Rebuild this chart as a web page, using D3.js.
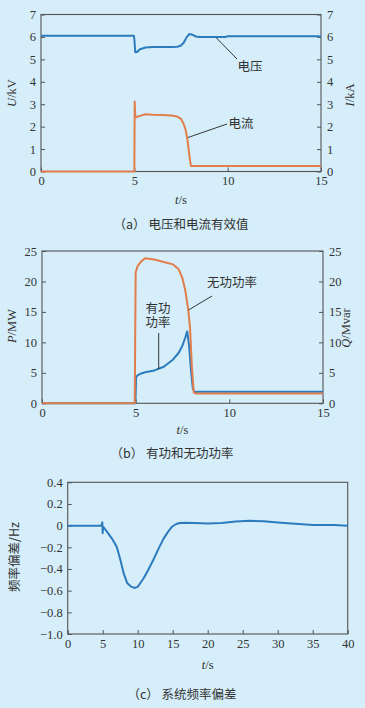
<!DOCTYPE html>
<html>
<head>
<meta charset="utf-8">
<script src="https://cdn.jsdelivr.net/npm/d3@7"></script>
<style>
  html, body { margin: 0; padding: 0; background: #d5eefa; }
  svg { display: block; }
  .tick text { font-family: 'Liberation Serif', serif; font-size: 12.5px; fill: #333; }
  .tick line { stroke: #555; }
  .lbl { font-family: 'Liberation Serif', serif; font-size: 12.5px; fill: #333; }
  .cjk { font-family: 'Noto Sans CJK SC', sans-serif; font-size: 12.5px; fill: #333; }
</style>
</head>
<body>
<svg id="chart" width="365" height="708"></svg>
<script>
// panel (a) voltage / current rms
var voltT = [0, 4.98, 5.0, 5.05, 5.15, 5.3, 5.6, 6.0, 7.0, 7.3, 7.5, 7.65, 7.8, 7.95, 8.1, 8.3, 8.5, 9.9, 10.0, 14.8, 15];
var voltU = [6.05, 6.05, 5.9, 5.32, 5.33, 5.45, 5.53, 5.55, 5.55, 5.56, 5.62, 5.75, 5.98, 6.13, 6.1, 6.02, 6.0, 6.0, 6.03, 6.03, 6.02];
var currT = [0, 5.0, 5.02, 5.05, 5.08, 5.3, 5.6, 6.0, 6.5, 7.0, 7.3, 7.5, 7.65, 7.75, 7.85, 7.95, 8.03, 8.2, 15];
var currI = [0, 0, 3.12, 2.5, 2.42, 2.48, 2.55, 2.53, 2.52, 2.5, 2.45, 2.35, 2.1, 1.85, 1.4, 0.7, 0.25, 0.25, 0.25];

// panel (b) active / reactive power
var pT = [0, 4.98, 5.0, 5.02, 5.1, 5.3, 5.5, 6.0, 6.5, 7.0, 7.3, 7.5, 7.65, 7.75, 7.85, 7.95, 8.05, 8.15, 8.3, 15];
var pP = [0, 0, 1.5, 4.3, 4.6, 4.9, 5.1, 5.4, 6.0, 7.2, 8.3, 9.5, 10.8, 11.8, 9.5, 5.5, 2.5, 1.8, 1.9, 1.9];
var qT = [0, 4.95, 5.0, 5.1, 5.3, 5.5, 6.0, 6.5, 7.0, 7.3, 7.5, 7.65, 7.8, 7.9, 8.0, 8.1, 8.2, 15];
var qQ = [0, 0, 21.5, 22.5, 23.3, 23.8, 23.6, 23.2, 22.8, 22.0, 20.5, 18.5, 15.5, 12.5, 6, 1.8, 1.6, 1.6];

// panel (c) system frequency deviation
var freqT = [0, 4.8, 4.95, 5.0, 5.05, 5.3, 5.6, 6.3, 7.0, 7.5, 8.0, 8.5, 9.0, 9.5, 10.0, 10.8, 11.5, 12.2, 13.0, 13.7, 14.3, 14.9, 15.5, 16.0, 17, 20, 22, 24, 26, 28, 30, 32, 35, 38, 40];
var freqF = [0, 0, 0.03, -0.07, -0.01, -0.03, -0.056, -0.117, -0.195, -0.31, -0.44, -0.53, -0.56, -0.575, -0.565, -0.49, -0.41, -0.32, -0.21, -0.12, -0.06, -0.01, 0.015, 0.025, 0.027, 0.02, 0.025, 0.038, 0.045, 0.04, 0.03, 0.02, 0.005, 0.005, 0];

var ticksA = [0, 1, 2, 3, 4, 5, 6, 7];
var ticksB = [0, 5, 10, 15, 20, 25];
var ticksC = [0.4, 0.2, 0, -0.2, -0.4, -0.6, -0.8, -1.0];
var ticksT15 = [0, 5, 10, 15];
var ticksT40 = [0, 5, 10, 15, 20, 25, 30, 35, 40];

var BLUE = '#2b7bbd', ORANGE = '#e27d4c', AXIS = '#555';
var svg = d3.select('#chart');

function zip(a, b) { return a.map(function (v, i) { return [v, b[i]]; }); }

// draw a framed panel with inward ticks; returns scales
function panel(o) {
  var x = d3.scaleLinear().domain(o.xDom).range([o.l, o.r]);
  var y = d3.scaleLinear().domain(o.yDom).range([o.b, o.t]);
  var g = svg.append('g');

  g.append('g').attr('transform', 'translate(0,' + o.b + ')')
    .call(d3.axisBottom(x).tickValues(o.xTicks).tickSizeInner(-4).tickSizeOuter(0).tickPadding(5).tickFormat(d3.format('d')))
    .call(function (s) { s.select('.domain').remove(); });
  g.append('g').attr('transform', 'translate(' + o.l + ',0)')
    .call(d3.axisLeft(y).tickValues(o.yTicks).tickSizeInner(-4).tickSizeOuter(0).tickPadding(5).tickFormat(o.fmt || d3.format('d')))
    .call(function (s) { s.select('.domain').remove(); });
  if (o.right) {
    g.append('g').attr('transform', 'translate(' + o.r + ',0)')
      .call(d3.axisRight(y).tickValues(o.yTicks).tickSizeInner(-4).tickSizeOuter(0).tickPadding(6).tickFormat(d3.format('d')))
      .call(function (s) { s.select('.domain').remove(); });
  }
  g.selectAll('.tick line').attr('stroke', AXIS);
  g.selectAll('.tick text').attr('fill', '#333');

  g.append('rect').attr('x', o.l).attr('y', o.t).attr('width', o.r - o.l).attr('height', o.b - o.t)
    .attr('fill', 'none').attr('stroke', AXIS).attr('stroke-width', 1.1);

  // x title
  var xt = g.append('text').attr('class', 'lbl').attr('x', (o.l + o.r) / 2).attr('y', o.xTitleY).attr('text-anchor', 'middle');
  xt.append('tspan').attr('font-style', 'italic').text('t');
  xt.append('tspan').text('/s');

  return { x: x, y: y, g: g };
}

function sideTitle(x, y, ital, rest, cjk) {
  var t = svg.append('text').attr('transform', 'translate(' + x + ',' + y + ') rotate(-90)')
    .attr('text-anchor', 'middle').attr('class', cjk ? 'cjk' : 'lbl');
  if (ital) t.append('tspan').attr('font-style', 'italic').text(ital);
  t.append('tspan').text(rest);
}

function series(p, xs, ys, color) {
  var line = d3.line().x(function (d) { return p.x(d[0]); }).y(function (d) { return p.y(d[1]); });
  p.g.append('path').datum(zip(xs, ys)).attr('d', line)
    .attr('fill', 'none').attr('stroke', color).attr('stroke-width', 2).attr('stroke-linejoin', 'round');
}

function leader(x1, y1, x2, y2) {
  svg.append('line').attr('x1', x1).attr('y1', y1).attr('x2', x2).attr('y2', y2)
    .attr('stroke', '#222').attr('stroke-width', 0.9);
}

function caption(x, y, tag, txt) {
  svg.append('text').attr('class', 'cjk').attr('x', x).attr('y', y).attr('text-anchor', 'middle')
    .attr('font-size', 13).text('（' + tag + '）  ' + txt);
}

// (a)
var pa = panel({ l: 41, r: 321, t: 14.5, b: 171.5, xDom: [0, 15], yDom: [0, 7], xTicks: ticksT15, yTicks: ticksA, right: true, xTitleY: 204 });
series(pa, currT, currI, ORANGE);
series(pa, voltT, voltU, BLUE);
sideTitle(16, 93, 'U', '/kV');
sideTitle(354, 95, 'I', '/kA');
leader(216, 37.5, 237, 59);
svg.append('text').attr('class', 'cjk').attr('x', 250).attr('y', 71).attr('text-anchor', 'middle').text('电压');
leader(188, 137.5, 227, 124);
svg.append('text').attr('class', 'cjk').attr('x', 241).attr('y', 128).attr('text-anchor', 'middle').text('电流');
caption(181, 229, 'a', '电压和电流有效值');

// (b)
var pb = panel({ l: 42, r: 323, t: 251, b: 403.3, xDom: [0, 15], yDom: [0, 25], xTicks: ticksT15, yTicks: ticksB, right: true, xTitleY: 434 });
series(pb, pT, pP, BLUE);
series(pb, qT, qQ, ORANGE);
sideTitle(16, 326, 'P', '/MW');
sideTitle(350, 328, 'Q', '/Mvar');
leader(188.5, 310, 212, 296);
svg.append('text').attr('class', 'cjk').attr('x', 232).attr('y', 287).attr('text-anchor', 'middle').text('无功功率');
leader(158.7, 333, 158.7, 369);
var pl = svg.append('text').attr('class', 'cjk').attr('text-anchor', 'middle').attr('font-size', 12);
pl.append('tspan').attr('x', 158).attr('y', 313).text('有功');
pl.append('tspan').attr('x', 158).attr('dy', 14).text('功率');
caption(172, 458, 'b', '有功和无功功率');

// (c)
var pc = panel({ l: 67.7, r: 347.7, t: 482.3, b: 634, xDom: [0, 40], yDom: [-1.0, 0.4], xTicks: ticksT40, yTicks: ticksC, right: false, xTitleY: 669,
  fmt: function (d) { return d === 0 ? '0' : d3.format('.1f')(d).replace('-', '\u2212'); } });
series(pc, freqT, freqF, BLUE);
sideTitle(19, 557, null, '频率偏差/Hz', true);
caption(182, 699, 'c', '系统频率偏差');
</script>
</body>
</html>
